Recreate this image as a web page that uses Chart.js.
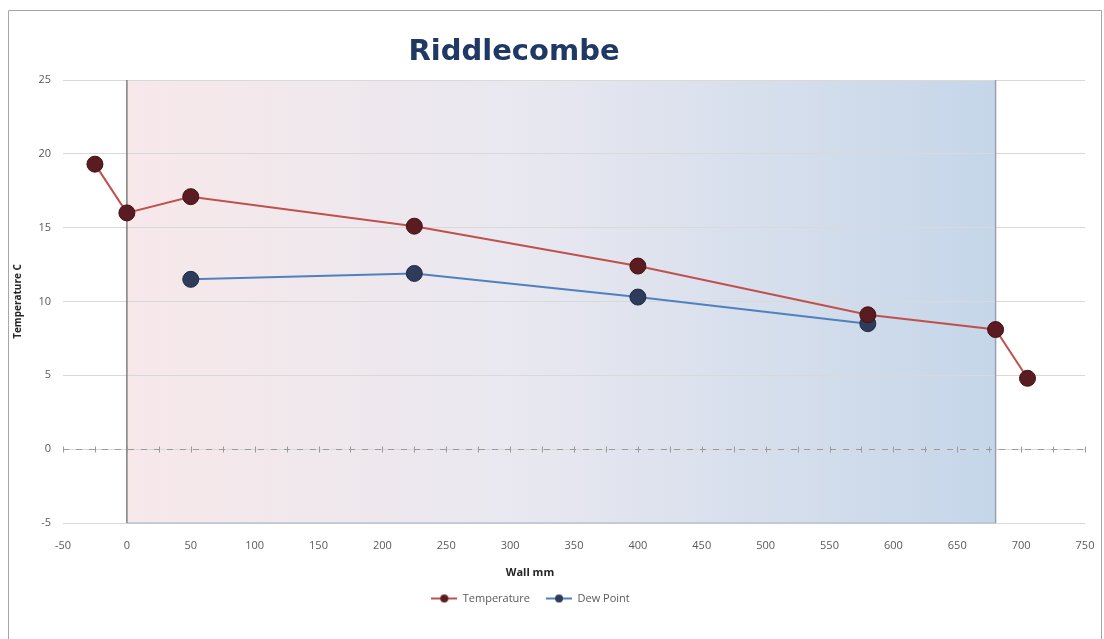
<!DOCTYPE html>
<html>
<head>
<meta charset="utf-8">
<script src="https://cdn.jsdelivr.net/npm/chart.js@4.4.1/dist/chart.umd.min.js"></script>
<style>
  html, body { margin: 0; padding: 0; background: #ffffff; }
  #wrap { position: relative; width: 1104px; height: 639px; }
</style>
</head>
<body>
<div id="wrap"><canvas id="c" width="1104" height="639"></canvas></div>
<script>
// ---- data ----
const chartTitle = 'Riddlecombe';
const xAxisTitle = 'Wall mm';
const yAxisTitle = 'Temperature C';
const tempWall = [-25, 0, 50, 225, 400, 580, 680, 705];
const temperature = [19.3, 16.0, 17.1, 15.1, 12.4, 9.1, 8.1, 4.8];
const dewWall = [50, 225, 400, 580];
const dewPoint = [11.5, 11.9, 10.3, 8.5];
const wallStart = 0;
const wallEnd = 680;
const xMin = -50, xMax = 750, xStep = 50;
const yMin = -5, yMax = 25, yStep = 5;

const tempPoints = tempWall.map((x, i) => ({ x: x, y: temperature[i] }));
const dewPoints = dewWall.map((x, i) => ({ x: x, y: dewPoint[i] }));

function legendIcon(lineColor, dotColor) {
  const cv = document.createElement('canvas');
  cv.width = 26; cv.height = 10;
  const g = cv.getContext('2d');
  g.strokeStyle = lineColor; g.lineWidth = 2;
  g.beginPath(); g.moveTo(0, 5); g.lineTo(26, 5); g.stroke();
  g.fillStyle = dotColor;
  g.beginPath(); g.arc(13, 5, 4, 0, Math.PI * 2); g.fill();
  return cv;
}

const tempLine = '#c0504d', tempDot = '#5a1c20', tempDotBorder = '#3f1214';
const dewLine = '#4f81bd', dewDot = '#2f3b5a', dewDotBorder = '#1f2a44';
const uiFont = '"Open Sans", Lato, sans-serif';

const decor = {
  id: 'decor',
  beforeDraw(chart) {
    const { ctx, scales } = chart;
    const xs = scales.x, ys = scales.y;
    const l = xs.getPixelForValue(wallStart), r = xs.getPixelForValue(wallEnd);
    const t = ys.getPixelForValue(yMax), b = ys.getPixelForValue(yMin);
    const grad = ctx.createLinearGradient(l, 0, r, 0);
    grad.addColorStop(0, '#f7e8ea');
    grad.addColorStop(0.45, '#e9e8f0');
    grad.addColorStop(1, '#c5d6e9');
    ctx.save();
    ctx.fillStyle = grad;
    ctx.fillRect(l, t, r - l, b - t);
    ctx.restore();
  },
  beforeDatasetsDraw(chart) {
    const { ctx, chartArea, scales } = chart;
    const xs = scales.x, ys = scales.y;
    const l = xs.getPixelForValue(wallStart), r = xs.getPixelForValue(wallEnd);
    const t = ys.getPixelForValue(yMax), b = ys.getPixelForValue(yMin);
    ctx.save();
    ctx.strokeStyle = '#b8c3cf'; ctx.lineWidth = 1.5;
    ctx.beginPath(); ctx.moveTo(l, b); ctx.lineTo(r, b); ctx.stroke();
    ctx.strokeStyle = '#7f7f7f'; ctx.lineWidth = 1.5;
    ctx.beginPath(); ctx.moveTo(l, t); ctx.lineTo(l, b); ctx.stroke();
    ctx.strokeStyle = '#9aa3ad';
    ctx.beginPath(); ctx.moveTo(r, t); ctx.lineTo(r, b); ctx.stroke();
    // zero axis line (dashed) with tick marks
    const y0 = Math.round(ys.getPixelForValue(0)) + 0.5;
    ctx.strokeStyle = '#9a9a9a'; ctx.lineWidth = 1;
    ctx.setLineDash([6, 7]);
    ctx.beginPath(); ctx.moveTo(chartArea.left, y0); ctx.lineTo(chartArea.right, y0); ctx.stroke();
    ctx.setLineDash([]);
    for (let v = xMin; v <= xMax; v += xStep / 2) {
      const px = Math.round(xs.getPixelForValue(v)) + 0.5;
      ctx.beginPath(); ctx.moveTo(px, y0 - 3); ctx.lineTo(px, y0 + 3); ctx.stroke();
    }
    ctx.restore();
  },
  afterLayout(chart) {
    const lg = chart.legend;
    if (lg) { lg.left -= 17; lg.right -= 17; lg.top -= 6; lg.bottom -= 6; }
  },
  afterDraw(chart) {
    const { ctx } = chart;
    ctx.save();
    // outer frame
    ctx.strokeStyle = '#a6a6a6'; ctx.lineWidth = 1;
    ctx.beginPath();
    ctx.moveTo(8.5, 650); ctx.lineTo(8.5, 10.5); ctx.lineTo(1101.5, 10.5); ctx.lineTo(1101.5, 650);
    ctx.stroke();
    // title
    ctx.fillStyle = '#203864';
    ctx.font = 'bold 29px "DejaVu Sans", sans-serif';
    ctx.textAlign = 'center'; ctx.textBaseline = 'middle';
    ctx.fillText(chartTitle, 514, 52);
    // x axis title
    ctx.fillStyle = '#262626';
    ctx.font = 'bold 11px ' + uiFont;
    ctx.fillText(xAxisTitle, 530, 573);
    ctx.restore();
  }
};

new Chart(document.getElementById('c'), {
  type: 'scatter',
  data: {
    datasets: [
      {
        label: 'Temperature',
        data: tempPoints,
        showLine: true,
        borderColor: tempLine,
        borderWidth: 2,
        backgroundColor: tempDot,
        pointBackgroundColor: tempDot,
        pointBorderColor: tempDotBorder,
        pointBorderWidth: 1,
        pointRadius: 8,
        pointHoverRadius: 8,
        order: 1
      },
      {
        label: 'Dew Point',
        data: dewPoints,
        showLine: true,
        borderColor: dewLine,
        borderWidth: 2,
        backgroundColor: dewDot,
        pointBackgroundColor: dewDot,
        pointBorderColor: dewDotBorder,
        pointBorderWidth: 1,
        pointRadius: 8,
        pointHoverRadius: 8,
        order: 2
      }
    ]
  },
  options: {
    responsive: false,
    animation: false,
    events: [],
    layout: { padding: { left: 10, right: 19, top: 80, bottom: 19 } },
    plugins: {
      title: { display: false },
      tooltip: { enabled: false },
      legend: {
        position: 'bottom',
        labels: {
          color: '#595959',
          font: { family: uiFont, size: 11 },
          usePointStyle: true,
          pointStyleWidth: 26,
          padding: 16,
          generateLabels(chart) {
            return chart.data.datasets.map((ds, i) => ({
              text: ds.label,
              fillStyle: ds.pointBackgroundColor,
              strokeStyle: ds.borderColor,
              lineWidth: 0,
              pointStyle: legendIcon(ds.borderColor, ds.pointBackgroundColor),
              hidden: false,
              datasetIndex: i,
              fontColor: '#595959'
            }));
          }
        }
      }
    },
    scales: {
      x: {
        type: 'linear',
        min: xMin, max: xMax,
        afterFit(s) { s.height = 60; s.paddingLeft = 0; s.paddingRight = 0; },
        ticks: {
          stepSize: xStep,
          color: '#595959',
          padding: 16,
          font: { family: uiFont, size: 11 },
          maxRotation: 0
        },
        grid: { display: false, drawTicks: false },
        border: { display: false }
      },
      y: {
        type: 'linear',
        min: yMin, max: yMax,
        afterFit(s) { s.width = 53; s.paddingTop = 0; s.paddingBottom = 0; },
        ticks: {
          stepSize: yStep,
          color: '#595959',
          padding: 12,
          font: { family: uiFont, size: 11 }
        },
        title: {
          display: true,
          text: yAxisTitle,
          color: '#262626',
          font: { family: uiFont, size: 10, weight: 'bold' },
          padding: { top: 2, bottom: 4 }
        },
        grid: { color: '#d9d9d9', lineWidth: 1, drawTicks: false },
        border: { display: false }
      }
    }
  },
  plugins: [decor]
});
</script>
</body>
</html>
